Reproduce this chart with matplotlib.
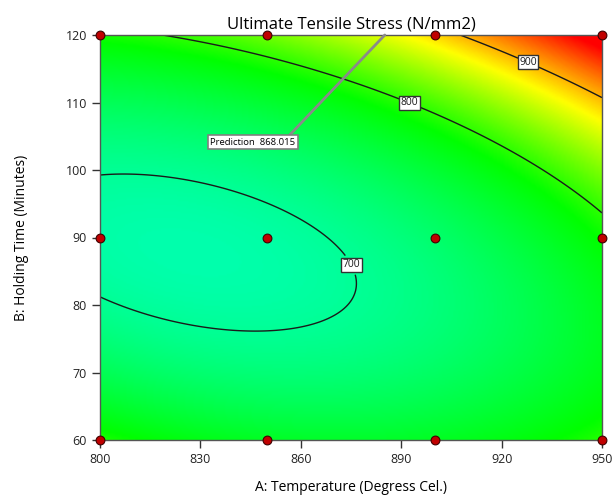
import matplotlib
matplotlib.use("Agg")
import matplotlib.pyplot as plt
import numpy as np
from matplotlib.colors import LinearSegmentedColormap

# fitted quadratic model in coded units: A=(T-875)/75, B=(t-90)/30
coef_names = ["b0", "A", "B", "A2", "B2", "AB"]
coef = [704.232, 48.251, 45.503, 34.771, 102.266, 47.074]

# design points
design_temp = [800, 850, 900, 950, 800, 850, 900, 950, 800, 850, 900, 950]
design_time = [60, 60, 60, 60, 90, 90, 90, 90, 120, 120, 120, 120]

contour_levels = [700, 800, 900]
label_pos = [(873.2, 85.5), (892.6, 110.2), (928.2, 116.3)]

pred_value = 868.015
pred_point = (885.1, 120)
pred_label = (845.7, 104.1)

x_ticks = [800, 830, 860, 890, 920, 950]
y_ticks = [60, 70, 80, 90, 100, 110, 120]

cmap_vals = [640, 785, 875, 965]
cmap_cols = ["#00ffff", "#00ff00", "#ffff00", "#ff0000"]


def model(T, t):
    a = (T - 875) / 75
    b = (t - 90) / 30
    b0, b1, b2, b11, b22, b12 = coef
    return b0 + b1 * a + b2 * b + b11 * a * a + b22 * b * b + b12 * a * b


plt.rcParams['font.family'] = ['Open Sans', 'DejaVu Sans']

fig = plt.figure(figsize=(6.16, 5), dpi=100)
ax = fig.add_axes([100 / 616, 1 - 440 / 500, 502 / 616, 405 / 500])

T = np.linspace(800, 950, 301)
t = np.linspace(60, 120, 241)
TT, tt = np.meshgrid(T, t)
Z = model(TT, tt)

lo, hi = cmap_vals[0], cmap_vals[-1]
stops = [((v - lo) / (hi - lo), c) for v, c in zip(cmap_vals, cmap_cols)]
cmap = LinearSegmentedColormap.from_list("de", stops)

ax.imshow(Z, origin="lower", extent=[800, 950, 60, 120], aspect="auto",
          cmap=cmap, vmin=lo, vmax=hi, interpolation="bilinear")

cs = ax.contour(TT, tt, Z, levels=contour_levels, colors="#1a1a1a", linewidths=1.0)
labels = ax.clabel(cs, fmt="%d", manual=label_pos, inline=True, inline_spacing=2,
                   fontsize=7.5)
for lb in labels:
    lb.set_rotation(0)
    lb.set_bbox(dict(boxstyle="square,pad=0.15", fc="white", ec="#333333", lw=1.0))

ax.annotate(f"Prediction  {pred_value:.3f}", xy=pred_point, xytext=pred_label,
            fontsize=6.8, ha="center", va="center",
            bbox=dict(boxstyle="square,pad=0.25", fc="white", ec="#808080", lw=1.2),
            arrowprops=dict(arrowstyle="-", color="#8a8a8a", lw=2,
                            shrinkA=0, shrinkB=0, relpos=(0.9, 1.0)),
            annotation_clip=False)

ax.scatter(design_temp, design_time, s=40, c="#c00000", edgecolors="#400000",
           linewidths=0.8, zorder=5, clip_on=False)

ax.set_xlim(800, 950)
ax.set_ylim(60, 120)
ax.set_xticks(x_ticks)
ax.set_yticks(y_ticks)
ax.tick_params(axis="both", direction="out", length=6, width=1, color="#333333",
               labelsize=9, labelcolor="#222222")
for sp in ax.spines.values():
    sp.set_color("#555555")
    sp.set_linewidth(1)

ax.set_title("Ultimate Tensile Stress (N/mm2)", fontsize=12, pad=5)
ax.set_xlabel("A: Temperature (Degress Cel.)", fontsize=10, labelpad=10)
ax.set_ylabel("B: Holding Time (Minutes)", fontsize=10, labelpad=26)

fig.savefig("out.png", dpi=100)
